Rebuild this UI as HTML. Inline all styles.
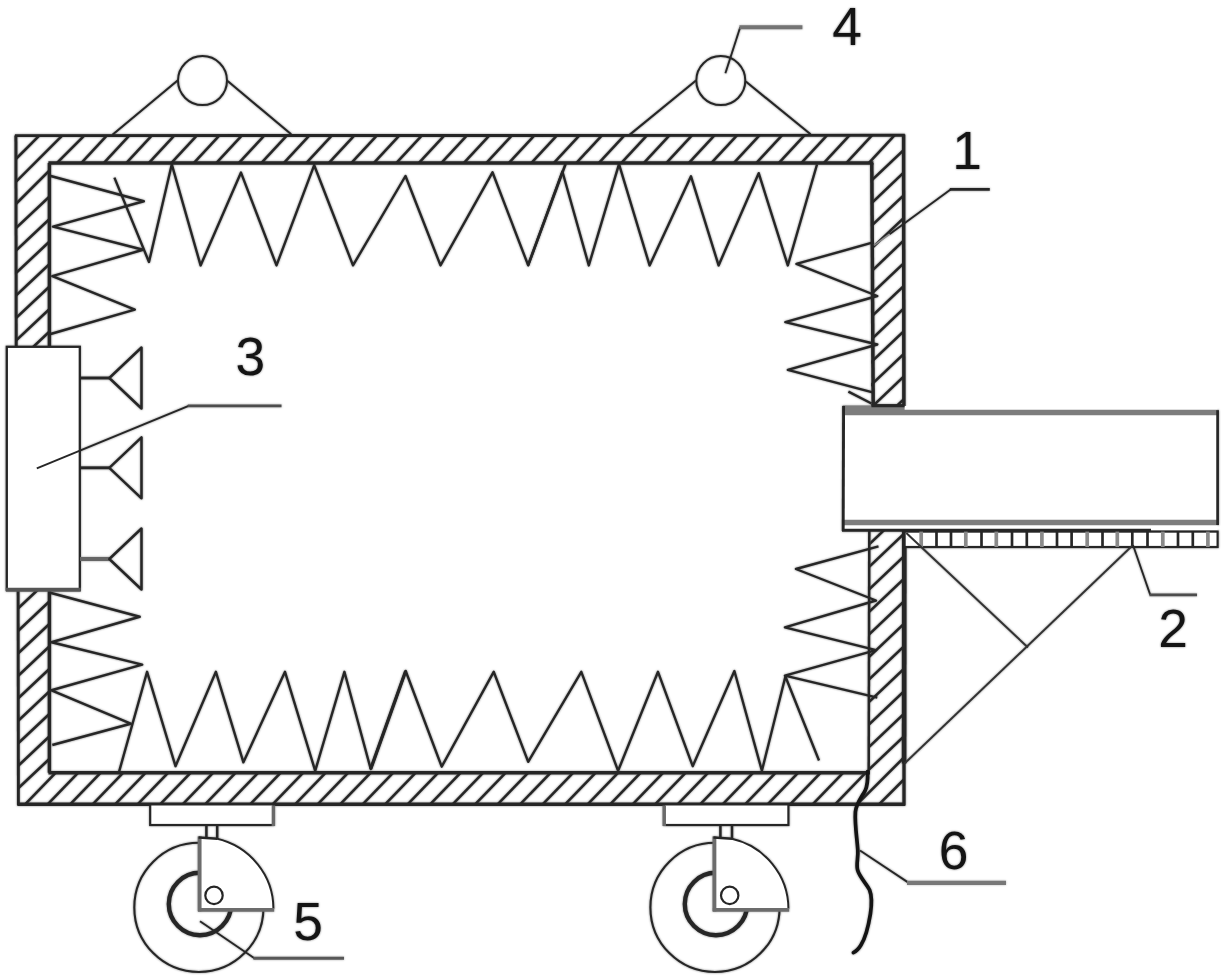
<!DOCTYPE html>
<html lang="en">
<head>
<meta charset="utf-8">
<title>Figure</title>
<style>
html,body{margin:0;padding:0;background:#fff;}
body{width:1226px;height:979px;overflow:hidden;font-family:"Liberation Sans",sans-serif;}
svg{display:block;}
svg text{font-family:"Liberation Sans",sans-serif;}
</style>
</head>
<body>
<svg width="1226" height="979" viewBox="0 0 1226 979" role="img" aria-label="Figure with reference numerals 1 to 6">
<rect x="0" y="0" width="1226" height="979" fill="#fff"/>
<defs><filter id="soft" x="-1%" y="-1%" width="102%" height="102%" color-interpolation-filters="sRGB"><feGaussianBlur in="SourceGraphic" stdDeviation="0.8" result="b"/><feComponentTransfer in="b" result="h"><feFuncA type="linear" slope="0.55"/></feComponentTransfer><feMerge><feMergeNode in="h"/><feMergeNode in="SourceGraphic"/></feMerge></filter></defs>
<g id="drawing" fill="none" stroke-linecap="butt" filter="url(#soft)">
<defs><clipPath id="ring"><path clip-rule="evenodd" d="M15.9,135.6 L903.6,135.6 L903.6,804.2 L18.4,804.2 Z M49.4,163.1 L872.4,163.1 L869.0,772.8 L49.4,772.8 Z"/></clipPath><clipPath id="cTop"><polygon points="15.9,135.6 903.6,135.6 872.4,163.1 49.4,163.1"/></clipPath><clipPath id="cBot"><polygon points="18.4,804.2 49.4,772.8 869.0,772.8 903.6,804.2"/></clipPath><clipPath id="cLeft"><polygon points="15.9,135.6 49.4,163.1 49.4,772.8 18.4,804.2"/></clipPath><clipPath id="cRight"><polygon points="872.4,163.1 903.6,135.6 903.6,804.2 869.0,772.8"/></clipPath></defs>
<g clip-path="url(#cTop)" stroke="#262626" stroke-width="2.55">
<line x1="77.8" y1="166.8" x2="110.2" y2="131.9"/>
<line x1="100.3" y1="166.8" x2="132.7" y2="131.9"/>
<line x1="122.8" y1="166.8" x2="155.2" y2="131.9"/>
<line x1="145.3" y1="166.8" x2="177.7" y2="131.9"/>
<line x1="167.8" y1="166.8" x2="200.2" y2="131.9"/>
<line x1="190.3" y1="166.8" x2="222.7" y2="131.9"/>
<line x1="212.8" y1="166.8" x2="245.2" y2="131.9"/>
<line x1="235.3" y1="166.8" x2="267.7" y2="131.9"/>
<line x1="257.8" y1="166.8" x2="290.2" y2="131.9"/>
<line x1="280.3" y1="166.8" x2="312.7" y2="131.9"/>
<line x1="302.8" y1="166.8" x2="335.2" y2="131.9"/>
<line x1="325.3" y1="166.8" x2="357.7" y2="131.9"/>
<line x1="347.8" y1="166.8" x2="380.2" y2="131.9"/>
<line x1="370.3" y1="166.8" x2="402.7" y2="131.9"/>
<line x1="392.8" y1="166.8" x2="425.2" y2="131.9"/>
<line x1="415.3" y1="166.8" x2="447.7" y2="131.9"/>
<line x1="437.8" y1="166.8" x2="470.2" y2="131.9"/>
<line x1="460.3" y1="166.8" x2="492.7" y2="131.9"/>
<line x1="482.8" y1="166.8" x2="515.2" y2="131.9"/>
<line x1="505.3" y1="166.8" x2="537.7" y2="131.9"/>
<line x1="527.8" y1="166.8" x2="560.2" y2="131.9"/>
<line x1="550.3" y1="166.8" x2="582.7" y2="131.9"/>
<line x1="572.8" y1="166.8" x2="605.2" y2="131.9"/>
<line x1="595.3" y1="166.8" x2="627.7" y2="131.9"/>
<line x1="617.8" y1="166.8" x2="650.2" y2="131.9"/>
<line x1="640.3" y1="166.8" x2="672.7" y2="131.9"/>
<line x1="662.8" y1="166.8" x2="695.2" y2="131.9"/>
<line x1="685.3" y1="166.8" x2="717.7" y2="131.9"/>
<line x1="707.8" y1="166.8" x2="740.2" y2="131.9"/>
<line x1="730.3" y1="166.8" x2="762.7" y2="131.9"/>
<line x1="752.8" y1="166.8" x2="785.2" y2="131.9"/>
<line x1="775.3" y1="166.8" x2="807.7" y2="131.9"/>
<line x1="797.8" y1="166.8" x2="830.2" y2="131.9"/>
<line x1="820.3" y1="166.8" x2="852.7" y2="131.9"/>
<line x1="842.8" y1="166.8" x2="875.2" y2="131.9"/>
<line x1="865.3" y1="166.8" x2="897.7" y2="131.9"/>
</g>
<g clip-path="url(#cBot)" stroke="#262626" stroke-width="2.55">
<line x1="21.7" y1="807.8" x2="59.1" y2="769.2"/>
<line x1="44.2" y1="807.8" x2="81.6" y2="769.2"/>
<line x1="66.7" y1="807.8" x2="104.1" y2="769.2"/>
<line x1="89.2" y1="807.8" x2="126.6" y2="769.2"/>
<line x1="111.7" y1="807.8" x2="149.1" y2="769.2"/>
<line x1="134.2" y1="807.8" x2="171.6" y2="769.2"/>
<line x1="156.7" y1="807.8" x2="194.1" y2="769.2"/>
<line x1="179.2" y1="807.8" x2="216.6" y2="769.2"/>
<line x1="201.7" y1="807.8" x2="239.1" y2="769.2"/>
<line x1="224.2" y1="807.8" x2="261.6" y2="769.2"/>
<line x1="246.7" y1="807.8" x2="284.1" y2="769.2"/>
<line x1="269.2" y1="807.8" x2="306.6" y2="769.2"/>
<line x1="291.7" y1="807.8" x2="329.1" y2="769.2"/>
<line x1="314.2" y1="807.8" x2="351.6" y2="769.2"/>
<line x1="336.7" y1="807.8" x2="374.1" y2="769.2"/>
<line x1="359.2" y1="807.8" x2="396.6" y2="769.2"/>
<line x1="381.7" y1="807.8" x2="419.1" y2="769.2"/>
<line x1="404.2" y1="807.8" x2="441.6" y2="769.2"/>
<line x1="426.7" y1="807.8" x2="464.1" y2="769.2"/>
<line x1="449.2" y1="807.8" x2="486.6" y2="769.2"/>
<line x1="471.7" y1="807.8" x2="509.1" y2="769.2"/>
<line x1="494.2" y1="807.8" x2="531.6" y2="769.2"/>
<line x1="516.7" y1="807.8" x2="554.1" y2="769.2"/>
<line x1="539.2" y1="807.8" x2="576.6" y2="769.2"/>
<line x1="561.7" y1="807.8" x2="599.1" y2="769.2"/>
<line x1="584.2" y1="807.8" x2="621.6" y2="769.2"/>
<line x1="606.7" y1="807.8" x2="644.1" y2="769.2"/>
<line x1="629.2" y1="807.8" x2="666.6" y2="769.2"/>
<line x1="651.7" y1="807.8" x2="689.1" y2="769.2"/>
<line x1="674.2" y1="807.8" x2="711.6" y2="769.2"/>
<line x1="696.7" y1="807.8" x2="734.1" y2="769.2"/>
<line x1="719.2" y1="807.8" x2="756.6" y2="769.2"/>
<line x1="741.7" y1="807.8" x2="779.1" y2="769.2"/>
<line x1="764.2" y1="807.8" x2="801.6" y2="769.2"/>
<line x1="786.7" y1="807.8" x2="824.1" y2="769.2"/>
<line x1="809.2" y1="807.8" x2="846.6" y2="769.2"/>
<line x1="831.7" y1="807.8" x2="869.1" y2="769.2"/>
</g>
<g clip-path="url(#cLeft)" stroke="#262626" stroke-width="2.55">
<line x1="12.3" y1="231.5" x2="53.0" y2="193.2"/>
<line x1="12.3" y1="254.0" x2="53.0" y2="215.7"/>
<line x1="12.3" y1="276.5" x2="53.0" y2="238.2"/>
<line x1="12.3" y1="299.0" x2="53.0" y2="260.7"/>
<line x1="12.3" y1="321.5" x2="53.0" y2="283.2"/>
<line x1="12.3" y1="344.0" x2="53.0" y2="305.7"/>
<line x1="12.3" y1="366.5" x2="53.0" y2="328.2"/>
<line x1="12.3" y1="389.0" x2="53.0" y2="350.7"/>
<line x1="12.3" y1="411.5" x2="53.0" y2="373.2"/>
<line x1="12.3" y1="434.0" x2="53.0" y2="395.7"/>
<line x1="12.3" y1="456.5" x2="53.0" y2="418.2"/>
<line x1="14.8" y1="476.5" x2="53.0" y2="440.5"/>
<line x1="14.8" y1="499.0" x2="53.0" y2="463.0"/>
<line x1="14.8" y1="521.5" x2="53.0" y2="485.5"/>
<line x1="14.8" y1="544.0" x2="53.0" y2="508.0"/>
<line x1="14.8" y1="566.5" x2="53.0" y2="530.5"/>
<line x1="14.8" y1="589.0" x2="53.0" y2="553.0"/>
<line x1="14.8" y1="611.5" x2="53.0" y2="575.5"/>
<line x1="14.8" y1="634.0" x2="53.0" y2="598.0"/>
<line x1="14.8" y1="656.5" x2="53.0" y2="620.5"/>
<line x1="14.8" y1="679.0" x2="53.0" y2="643.0"/>
<line x1="14.8" y1="701.5" x2="53.0" y2="665.5"/>
<line x1="14.8" y1="724.0" x2="53.0" y2="688.0"/>
<line x1="14.8" y1="746.5" x2="53.0" y2="710.5"/>
<line x1="14.8" y1="769.0" x2="53.0" y2="733.0"/>
<line x1="14.8" y1="791.5" x2="53.0" y2="755.5"/>
</g>
<g clip-path="url(#cRight)" stroke="#262626" stroke-width="2.55">
<line x1="868.8" y1="183.1" x2="907.2" y2="146.6"/>
<line x1="868.8" y1="205.8" x2="907.2" y2="169.2"/>
<line x1="868.8" y1="228.4" x2="907.2" y2="191.9"/>
<line x1="868.8" y1="251.1" x2="907.2" y2="214.6"/>
<line x1="868.8" y1="273.8" x2="907.2" y2="237.2"/>
<line x1="868.8" y1="296.4" x2="907.2" y2="259.9"/>
<line x1="868.8" y1="319.1" x2="907.2" y2="282.6"/>
<line x1="868.8" y1="341.8" x2="907.2" y2="305.2"/>
<line x1="868.8" y1="364.4" x2="907.2" y2="327.9"/>
<line x1="868.8" y1="387.1" x2="907.2" y2="350.6"/>
<line x1="868.8" y1="409.8" x2="907.2" y2="373.3"/>
<line x1="868.8" y1="432.5" x2="907.2" y2="395.9"/>
<line x1="868.8" y1="455.1" x2="907.2" y2="418.6"/>
<line x1="868.8" y1="477.8" x2="907.2" y2="441.3"/>
<line x1="868.8" y1="500.5" x2="907.2" y2="463.9"/>
<line x1="865.4" y1="525.4" x2="907.2" y2="485.7"/>
<line x1="865.4" y1="547.9" x2="907.2" y2="508.2"/>
<line x1="865.4" y1="570.4" x2="907.2" y2="530.7"/>
<line x1="865.4" y1="592.9" x2="907.2" y2="553.2"/>
<line x1="865.4" y1="615.4" x2="907.2" y2="575.7"/>
<line x1="865.4" y1="637.9" x2="907.2" y2="598.2"/>
<line x1="865.4" y1="660.4" x2="907.2" y2="620.7"/>
<line x1="865.4" y1="682.9" x2="907.2" y2="643.2"/>
<line x1="865.4" y1="705.4" x2="907.2" y2="665.7"/>
<line x1="865.4" y1="727.9" x2="907.2" y2="688.2"/>
<line x1="865.4" y1="750.4" x2="907.2" y2="710.7"/>
<line x1="865.4" y1="772.9" x2="907.2" y2="733.2"/>
</g>
<g clip-path="url(#ring)" stroke="#262626" stroke-width="2.55">
<line x1="-632.8" y1="807.7" x2="42.8" y2="132.1"/>
<line x1="-609.9" y1="807.7" x2="65.7" y2="132.1"/>
<line x1="-587.8" y1="807.7" x2="87.8" y2="132.1"/>
<line x1="853.7" y1="807.7" x2="1529.3" y2="132.1"/>
<line x1="875.7" y1="807.7" x2="1551.3" y2="132.1"/>
</g>
<line x1="14.9" y1="135.6" x2="904.8" y2="135.3" stroke="#262626" stroke-width="2.9" />
<line x1="48.4" y1="163.1" x2="873.4" y2="163.1" stroke="#262626" stroke-width="3.5" />
<line x1="15.9" y1="135.6" x2="16.2" y2="346.8" stroke="#262626" stroke-width="3.0" />
<line x1="18.1" y1="589.8" x2="18.4" y2="805.2" stroke="#262626" stroke-width="2.9" />
<line x1="49.4" y1="163.1" x2="49.4" y2="772.8" stroke="#262626" stroke-width="3.5" />
<line x1="48.4" y1="772.8" x2="870.0" y2="772.8" stroke="#262626" stroke-width="3.5" />
<line x1="17.4" y1="804.2" x2="904.9" y2="804.2" stroke="#262626" stroke-width="3.5" />
<line x1="903.6" y1="134.6" x2="903.9" y2="406.0" stroke="#262626" stroke-width="3.5" />
<line x1="871.8" y1="163.1" x2="873.2" y2="406.0" stroke="#262626" stroke-width="3.5" />
<line x1="871.4" y1="405.6" x2="904.6" y2="405.6" stroke="#262626" stroke-width="2.9" />
<line x1="904.3" y1="530.2" x2="904.1" y2="763.5" stroke="#262626" stroke-width="4.7" />
<line x1="904.0" y1="762.0" x2="904.0" y2="805.6" stroke="#262626" stroke-width="3.3" />
<line x1="869.3" y1="530.2" x2="868.7" y2="772.8" stroke="#262626" stroke-width="2.5" />
<polyline points="114.4,177.6 149.0,262.0 171.8,164.3 200.6,265.4 241.0,172.6 276.5,265.4 314.2,165.2 353.0,265.4 405.5,176.0 440.5,265.4 492.5,172.3 528.2,265.4 562.4,171.5 588.8,265.4 619.0,164.2 649.6,265.4 691.0,176.3 718.6,265.4 758.7,173.2 787.8,265.4 817.0,164.5" fill="none" stroke="#262626" stroke-width="2.4" stroke-linejoin="round" />
<line x1="528.0" y1="265.4" x2="565.6" y2="164.0" stroke="#262626" stroke-width="2.6" />
<polyline points="119.1,771.6 147.1,671.8 175.5,766.2 215.9,671.8 243.4,762.3 285.0,671.8 315.2,770.8 344.4,671.8 370.7,769.0 405.7,671.0 441.7,766.7 493.7,671.8 528.2,761.8 581.3,671.8 618.1,770.8 658.0,671.8 692.7,766.2 734.4,671.0 761.9,770.8 785.4,676.5 819.0,760.5" fill="none" stroke="#262626" stroke-width="2.4" stroke-linejoin="round" />
<line x1="370.7" y1="769.0" x2="405.7" y2="671.0" stroke="#262626" stroke-width="3.3" />
<polyline points="50.7,176.0 143.8,201.3 53.0,226.6 143.0,249.8 52.3,276.1 134.8,309.6 50.6,334.0" fill="none" stroke="#262626" stroke-width="2.5" stroke-linejoin="round" />
<polyline points="50.2,592.7 139.7,616.8 51.5,642.3 142.2,664.6 51.5,690.3 130.7,723.7 52.3,745.0" fill="none" stroke="#262626" stroke-width="2.5" stroke-linejoin="round" />
<polyline points="874.0,242.2 796.4,263.9 877.3,296.0 785.3,322.2 877.3,344.5 787.8,369.9 873.6,392.7" fill="none" stroke="#262626" stroke-width="2.4" stroke-linejoin="round" />
<line x1="848.4" y1="391.6" x2="871.5" y2="403.5" stroke="#262626" stroke-width="2.4" />
<polyline points="878.5,546.4 795.9,569.0 876.0,600.5 784.9,627.4 876.0,650.2 784.9,675.6 877.3,697.7" fill="none" stroke="#262626" stroke-width="2.4" stroke-linejoin="round" />
<rect x="6.8" y="346.8" width="73" height="242.99999999999994" fill="#fff" stroke="#262626" stroke-width="2.3"/>
<line x1="5.8" y1="589.8" x2="80.8" y2="589.8" stroke="#555" stroke-width="4.1" />
<line x1="80.0" y1="378.0" x2="109.3" y2="378.0" stroke="#262626" stroke-width="2.9" />
<polygon points="109.3,378.0 141.5,347.5 141.5,408.5" fill="none" stroke="#262626" stroke-width="2.5" stroke-linejoin="round" />
<line x1="80.0" y1="467.8" x2="109.3" y2="467.8" stroke="#262626" stroke-width="2.9" />
<polygon points="109.3,467.8 141.5,437.3 141.5,498.3" fill="none" stroke="#262626" stroke-width="2.5" stroke-linejoin="round" />
<line x1="80.0" y1="559.0" x2="109.3" y2="559.0" stroke="#666" stroke-width="4.1" />
<polygon points="109.3,559.0 141.5,528.5 141.5,589.5" fill="none" stroke="#262626" stroke-width="2.5" stroke-linejoin="round" />
<rect x="843.6" y="406" width="374" height="124" fill="#fff" stroke="none"/>
<line x1="842.6" y1="412.6" x2="1218.6" y2="412.6" stroke="#7d7d7d" stroke-width="5.5" />
<rect x="842.6" y="405.4" width="62" height="5" fill="#7d7d7d"/>
<line x1="871.4" y1="405.8" x2="904.6" y2="405.8" stroke="#262626" stroke-width="2.9" />
<line x1="842.6" y1="522.4" x2="1218.6" y2="522.4" stroke="#7d7d7d" stroke-width="5.5" />
<line x1="843.6" y1="406.0" x2="843.2" y2="531.0" stroke="#262626" stroke-width="2.9" />
<line x1="1217.6" y1="410.2" x2="1217.6" y2="525.0" stroke="#262626" stroke-width="2.7" />
<line x1="842.0" y1="530.2" x2="1151.0" y2="530.2" stroke="#262626" stroke-width="3.1" />
<rect x="904.6" y="531.6" width="313" height="15.4" fill="#fff" stroke="#262626" stroke-width="2.2"/>
<line x1="921.2" y1="531.6" x2="921.2" y2="547.0" stroke="#8a8a8a" stroke-width="3.7" />
<line x1="936.5" y1="531.6" x2="936.5" y2="547.0" stroke="#262626" stroke-width="2.7" />
<line x1="951.0" y1="531.6" x2="951.0" y2="547.0" stroke="#262626" stroke-width="2.7" />
<line x1="965.8" y1="531.6" x2="965.8" y2="547.0" stroke="#8a8a8a" stroke-width="3.7" />
<line x1="981.5" y1="531.6" x2="981.5" y2="547.0" stroke="#262626" stroke-width="2.7" />
<line x1="996.3" y1="531.6" x2="996.3" y2="547.0" stroke="#8a8a8a" stroke-width="3.7" />
<line x1="1012.0" y1="531.6" x2="1012.0" y2="547.0" stroke="#262626" stroke-width="2.7" />
<line x1="1026.8" y1="531.6" x2="1026.8" y2="547.0" stroke="#262626" stroke-width="2.7" />
<line x1="1041.9" y1="531.6" x2="1041.9" y2="547.0" stroke="#8a8a8a" stroke-width="3.7" />
<line x1="1057.0" y1="531.6" x2="1057.0" y2="547.0" stroke="#262626" stroke-width="2.7" />
<line x1="1071.6" y1="531.6" x2="1071.6" y2="547.0" stroke="#262626" stroke-width="2.7" />
<line x1="1087.2" y1="531.6" x2="1087.2" y2="547.0" stroke="#8a8a8a" stroke-width="3.7" />
<line x1="1102.5" y1="531.6" x2="1102.5" y2="547.0" stroke="#262626" stroke-width="2.7" />
<line x1="1117.3" y1="531.6" x2="1117.3" y2="547.0" stroke="#8a8a8a" stroke-width="3.7" />
<line x1="1132.3" y1="531.6" x2="1132.3" y2="547.0" stroke="#262626" stroke-width="2.7" />
<line x1="1147.5" y1="531.6" x2="1147.5" y2="547.0" stroke="#262626" stroke-width="2.7" />
<line x1="1162.8" y1="531.6" x2="1162.8" y2="547.0" stroke="#8a8a8a" stroke-width="3.7" />
<line x1="1178.0" y1="531.6" x2="1178.0" y2="547.0" stroke="#262626" stroke-width="2.7" />
<line x1="1192.8" y1="531.6" x2="1192.8" y2="547.0" stroke="#262626" stroke-width="2.7" />
<line x1="1207.9" y1="531.6" x2="1207.9" y2="547.0" stroke="#8a8a8a" stroke-width="3.7" />
<line x1="906.3" y1="533.0" x2="1028.0" y2="647.5" stroke="#333" stroke-width="2.0" />
<line x1="1133.0" y1="545.0" x2="904.5" y2="763.5" stroke="#333" stroke-width="2.0" />
<circle cx="202.5" cy="80.6" r="24.5" fill="none" stroke="#262626" stroke-width="2.0"/>
<circle cx="720.8" cy="80.6" r="24.5" fill="none" stroke="#262626" stroke-width="2.0"/>
<line x1="177.6" y1="80.5" x2="112.5" y2="134.7" stroke="#262626" stroke-width="2.1" />
<line x1="227.6" y1="81.0" x2="291.2" y2="134.3" stroke="#262626" stroke-width="2.1" />
<line x1="696.0" y1="80.5" x2="629.5" y2="134.9" stroke="#262626" stroke-width="2.1" />
<line x1="745.8" y1="81.5" x2="810.6" y2="134.3" stroke="#262626" stroke-width="2.1" />
<circle cx="198.9" cy="907.4" r="64.6" fill="none" stroke="#262626" stroke-width="2.1"/>
<circle cx="200.0" cy="904" r="31.2" fill="none" stroke="#262626" stroke-width="4.4"/>
<path d="M199.6,836.8 L217.2,839 A73.5,72.5 0 0 1 273.4,909.8 L199.6,909.8 Z" fill="#fff" stroke="none"/>
<path d="M216.2,838.6 A74,72 0 0 1 273.4,908.6" fill="none" stroke="#262626" stroke-width="2.0"/>
<line x1="199.6" y1="836.4" x2="199.6" y2="911.4" stroke="#6c6c6c" stroke-width="3.9" />
<line x1="198.0" y1="909.8" x2="274.2" y2="909.8" stroke="#6c6c6c" stroke-width="3.7" />
<line x1="198.6" y1="837.4" x2="217.2" y2="838.8" stroke="#262626" stroke-width="2.5" />
<circle cx="214.0" cy="895.4" r="8.7" fill="#fff" stroke="#262626" stroke-width="2.2"/>
<rect x="150.2" y="804.4" width="123.19999999999999" height="20.6" fill="#fff" stroke="#262626" stroke-width="2.2"/>
<line x1="273.4" y1="805.5" x2="273.4" y2="826.0" stroke="#6a6a6a" stroke-width="3.5" />
<line x1="206.4" y1="825.0" x2="206.4" y2="839.0" stroke="#262626" stroke-width="2.5" />
<line x1="217.2" y1="825.0" x2="217.2" y2="839.0" stroke="#262626" stroke-width="2.5" />
<circle cx="715.0" cy="907.4" r="64.6" fill="none" stroke="#262626" stroke-width="2.1"/>
<circle cx="716.0" cy="904" r="31.2" fill="none" stroke="#262626" stroke-width="4.4"/>
<path d="M714.4,836.8 L732.0,839 A73.5,72.5 0 0 1 788.4,909.8 L714.4,909.8 Z" fill="#fff" stroke="none"/>
<path d="M731.0,838.6 A74,72 0 0 1 788.4,908.6" fill="none" stroke="#262626" stroke-width="2.0"/>
<line x1="714.4" y1="836.4" x2="714.4" y2="911.4" stroke="#6c6c6c" stroke-width="3.9" />
<line x1="712.8" y1="909.8" x2="789.2" y2="909.8" stroke="#6c6c6c" stroke-width="3.7" />
<line x1="713.4" y1="837.4" x2="732.0" y2="838.8" stroke="#262626" stroke-width="2.5" />
<circle cx="729.7" cy="895.4" r="8.7" fill="#fff" stroke="#262626" stroke-width="2.2"/>
<rect x="664.2" y="804.4" width="124.19999999999993" height="20.6" fill="#fff" stroke="#262626" stroke-width="2.2"/>
<line x1="664.2" y1="805.5" x2="664.2" y2="826.0" stroke="#6a6a6a" stroke-width="3.5" />
<line x1="720.4" y1="825.0" x2="720.4" y2="839.0" stroke="#262626" stroke-width="2.5" />
<line x1="732.0" y1="825.0" x2="732.0" y2="839.0" stroke="#262626" stroke-width="2.5" />
<path d="M867.6,771.5 C868,780 867.5,786 865,791 C861,798 856,804 855.4,812 C854.6,824 857,838 857.8,850 C858.4,858 856,864 857.6,870 C859.5,877 866,883 869.6,890 C872.4,897 871.6,906 870.4,914 C868.6,925 866,937 861,945 C858.6,949 856,951.4 853.4,952.6" fill="none" stroke="#141414" stroke-width="3.7" stroke-linecap="round"/>
<polyline points="889.5,234.2 950.6,189.4" fill="none" stroke="#262626" stroke-width="1.9" stroke-linejoin="round" />
<line x1="949.8" y1="189.4" x2="989.8" y2="189.4" stroke="#262626" stroke-width="2.7" />
<line x1="889.5" y1="234.2" x2="874.0" y2="245.4" stroke="#8a8a8a" stroke-width="1.7" />
<polyline points="1133.0,545.0 1150.2,594.8" fill="none" stroke="#262626" stroke-width="1.9" stroke-linejoin="round" />
<line x1="1149.4" y1="594.8" x2="1197.0" y2="594.8" stroke="#4d4d4d" stroke-width="2.7" />
<polyline points="36.8,468.3 188.7,405.8" fill="none" stroke="#262626" stroke-width="1.9" stroke-linejoin="round" />
<line x1="187.8" y1="405.8" x2="281.5" y2="405.8" stroke="#4d4d4d" stroke-width="2.8" />
<polyline points="725.4,73.2 740.2,27.2" fill="none" stroke="#262626" stroke-width="1.9" stroke-linejoin="round" />
<line x1="739.4" y1="27.2" x2="802.4" y2="27.2" stroke="#747474" stroke-width="4.1" />
<polyline points="200.0,921.2 254.4,958.2" fill="none" stroke="#262626" stroke-width="1.9" stroke-linejoin="round" />
<line x1="253.4" y1="958.3" x2="344.0" y2="958.3" stroke="#585858" stroke-width="3.0" />
<polyline points="860.0,850.5 908.0,882.4" fill="none" stroke="#262626" stroke-width="1.9" stroke-linejoin="round" />
<line x1="907.0" y1="882.8" x2="1006.0" y2="882.8" stroke="#787878" stroke-width="4.2" />
<text x="967.0" y="168.8" font-size="53.3" text-anchor="middle" fill="#141414">1</text>
<text x="1173.0" y="646.6" font-size="53.3" text-anchor="middle" fill="#141414">2</text>
<text x="250.4" y="374.6" font-size="53.3" text-anchor="middle" fill="#141414">3</text>
<text x="847.0" y="44.8" font-size="53.3" text-anchor="middle" fill="#141414">4</text>
<text x="308.0" y="940.2" font-size="53.3" text-anchor="middle" fill="#141414">5</text>
<text x="953.6" y="869.4" font-size="53.3" text-anchor="middle" fill="#141414">6</text>
</g>
</svg>
</body>
</html>
